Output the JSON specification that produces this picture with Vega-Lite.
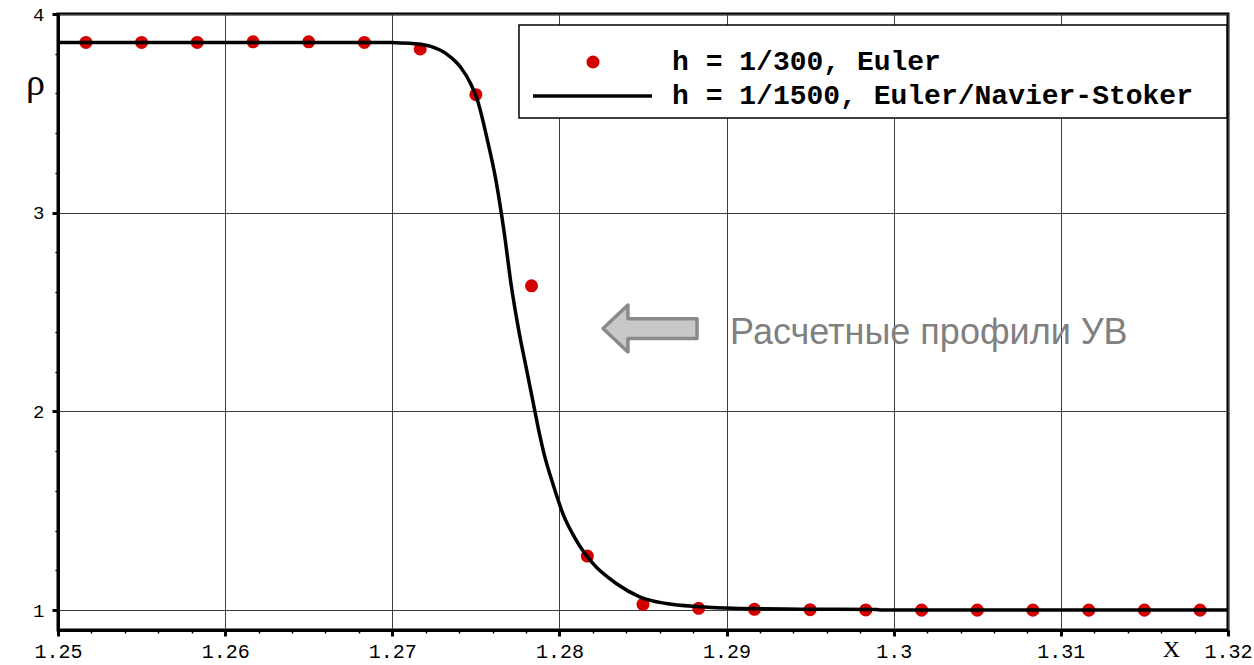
{
  "$schema": "https://vega.github.io/schema/vega-lite/v6.json",
  "width": 1170,
  "height": 616,
  "autosize": "none",
  "padding": {"left": 58, "top": 14, "right": 26, "bottom": 35},
  "background": "white",
  "config": {
    "view": {"stroke": "black", "strokeWidth": 3},
    "axis": {"labelColor": "black", "tickColor": "black", "domainColor": "black"}
  },
  "datasets": {
    "euler300": [
      {"x": 1.25167, "rho": 3.857},
      {"x": 1.255, "rho": 3.857},
      {"x": 1.25833, "rho": 3.857},
      {"x": 1.26167, "rho": 3.86},
      {"x": 1.265, "rho": 3.86},
      {"x": 1.26833, "rho": 3.857},
      {"x": 1.27167, "rho": 3.824},
      {"x": 1.275, "rho": 3.594},
      {"x": 1.27833, "rho": 2.632},
      {"x": 1.28167, "rho": 1.272},
      {"x": 1.285, "rho": 1.029},
      {"x": 1.28833, "rho": 1.009},
      {"x": 1.29167, "rho": 1.004},
      {"x": 1.295, "rho": 1.002},
      {"x": 1.29833, "rho": 1.001},
      {"x": 1.30167, "rho": 1.0},
      {"x": 1.305, "rho": 1.0},
      {"x": 1.30833, "rho": 1.0},
      {"x": 1.31167, "rho": 1.0},
      {"x": 1.315, "rho": 1.0},
      {"x": 1.31833, "rho": 1.0}
    ],
    "ns1500": [
      {"x": 1.25, "rho": 3.857},
      {"x": 1.2693, "rho": 3.857},
      {"x": 1.27, "rho": 3.856},
      {"x": 1.2712, "rho": 3.852},
      {"x": 1.2723, "rho": 3.837},
      {"x": 1.2733, "rho": 3.796},
      {"x": 1.2741, "rho": 3.731},
      {"x": 1.2747, "rho": 3.648},
      {"x": 1.2751, "rho": 3.565},
      {"x": 1.2757, "rho": 3.362},
      {"x": 1.2762, "rho": 3.164},
      {"x": 1.2764, "rho": 3.064},
      {"x": 1.2767, "rho": 2.898},
      {"x": 1.2771, "rho": 2.644},
      {"x": 1.2776, "rho": 2.393},
      {"x": 1.278, "rho": 2.225},
      {"x": 1.2784, "rho": 2.057},
      {"x": 1.2788, "rho": 1.89},
      {"x": 1.2791, "rho": 1.78},
      {"x": 1.2796, "rho": 1.638},
      {"x": 1.2802, "rho": 1.487},
      {"x": 1.281, "rho": 1.352},
      {"x": 1.282, "rho": 1.235},
      {"x": 1.2834, "rho": 1.134},
      {"x": 1.2848, "rho": 1.067},
      {"x": 1.2864, "rho": 1.033},
      {"x": 1.2884, "rho": 1.017},
      {"x": 1.2904, "rho": 1.009},
      {"x": 1.2944, "rho": 1.005},
      {"x": 1.299, "rho": 1.003},
      {"x": 1.2992, "rho": 1.001},
      {"x": 1.32, "rho": 1.001}
    ],
    "one": [{}]
  },
  "layer": [
    {
      "data": {"name": "euler300"},
      "mark": {"type": "point", "filled": true, "size": 170, "color": "#d40000", "opacity": 1},
      "encoding": {
        "x": {
          "field": "x", "type": "quantitative",
          "scale": {"domain": [1.25, 1.32], "nice": false, "zero": false},
          "axis": {
            "orient": "bottom", "title": null, "labels": false, "grid": false, "domain": false,
            "tickSize": 3, "tickWidth": 1.5,
            "values": [1.252, 1.254, 1.256, 1.258, 1.262, 1.264, 1.266, 1.268, 1.272, 1.274, 1.276, 1.278, 1.282, 1.284, 1.286, 1.288, 1.292, 1.294, 1.296, 1.298, 1.302, 1.304, 1.306, 1.308, 1.312, 1.314, 1.316, 1.318]
          }
        },
        "y": {
          "field": "rho", "type": "quantitative",
          "scale": {"domain": [0.9, 4], "nice": false, "zero": false},
          "axis": {
            "orient": "left", "title": null, "labels": false, "grid": false, "domain": false,
            "tickSize": 3, "tickWidth": 1.5,
            "values": [1.2, 1.4, 1.6, 1.8, 2.2, 2.4, 2.6, 2.8, 3.2, 3.4, 3.6, 3.8]
          }
        }
      }
    },
    {
      "data": {"name": "ns1500"},
      "mark": {"type": "line", "color": "black", "strokeWidth": 3.5, "strokeJoin": "round", "interpolate": "monotone"},
      "encoding": {
        "x": {
          "field": "x", "type": "quantitative",
          "scale": {"domain": [1.25, 1.32], "nice": false, "zero": false},
          "axis": {
            "orient": "bottom",
            "values": [1.25, 1.26, 1.27, 1.28, 1.29, 1.3, 1.31, 1.32],
            "format": "~g",
            "grid": true, "gridColor": "#3c3c3c", "gridWidth": 1, "gridOpacity": 1,
            "domainWidth": 3, "tickSize": 6, "tickWidth": 3,
            "labelFont": "Liberation Mono", "labelFontSize": 20, "labelPadding": 5,
            "labelFlush": false,
            "title": "X", "titleFont": "Liberation Serif", "titleFontSize": 24, "titleFontWeight": "normal",
            "titleColor": "black", "titleX": 1113, "titleY": 26, "titleAlign": "center", "titleBaseline": "alphabetic", "titleAngle": 0
          }
        },
        "y": {
          "field": "rho", "type": "quantitative",
          "scale": {"domain": [0.9, 4], "nice": false, "zero": false},
          "axis": {
            "orient": "left",
            "values": [1, 2, 3, 4],
            "grid": true, "gridColor": "#3c3c3c", "gridWidth": 1, "gridOpacity": 1,
            "domainWidth": 3, "tickSize": 6, "tickWidth": 3,
            "labelFont": "Liberation Mono", "labelFontSize": 19, "labelPadding": 8,
            "labelFlush": false,
            "title": "ρ", "titleFont": "Liberation Serif", "titleFontSize": 38, "titleFontWeight": "normal",
            "titleColor": "black", "titleX": -23, "titleY": 80, "titleAlign": "center", "titleBaseline": "alphabetic", "titleAngle": 0
          }
        }
      }
    },
    {
      "data": {"name": "one"},
      "mark": {"type": "rect", "fill": "white", "stroke": "black", "strokeWidth": 1.5},
      "encoding": {
        "x": {"datum": 1.27758, "type": "quantitative", "axis": null},
        "x2": {"datum": 1.31994},
        "y": {"datum": 3.9446, "type": "quantitative", "axis": null},
        "y2": {"datum": 3.4765}
      }
    },
    {
      "data": {"name": "one"},
      "mark": {"type": "point", "filled": true, "size": 170, "color": "#d40000", "opacity": 1},
      "encoding": {
        "x": {"datum": 1.28201, "type": "quantitative", "axis": null},
        "y": {"datum": 3.7584, "type": "quantitative", "axis": null}
      }
    },
    {
      "data": {"name": "one"},
      "mark": {"type": "rule", "color": "black", "strokeWidth": 3.5},
      "encoding": {
        "x": {"datum": 1.27842, "type": "quantitative", "axis": null},
        "x2": {"datum": 1.28554},
        "y": {"datum": 3.5873, "type": "quantitative", "axis": null}
      }
    },
    {
      "data": {"name": "one"},
      "mark": {"type": "text", "text": "h = 1/300, Euler", "align": "left", "baseline": "middle", "font": "Liberation Mono", "fontSize": 28, "fontWeight": "bold", "color": "black"},
      "encoding": {
        "x": {"datum": 1.28674, "type": "quantitative", "axis": null},
        "y": {"datum": 3.7584, "type": "quantitative", "axis": null}
      }
    },
    {
      "data": {"name": "one"},
      "mark": {"type": "text", "text": "h = 1/1500, Euler/Navier-Stoker", "align": "left", "baseline": "middle", "font": "Liberation Mono", "fontSize": 28, "fontWeight": "bold", "color": "black"},
      "encoding": {
        "x": {"datum": 1.28674, "type": "quantitative", "axis": null},
        "y": {"datum": 3.5873, "type": "quantitative", "axis": null}
      }
    },
    {
      "data": {"name": "one"},
      "mark": {
        "type": "point", "filled": true, "size": 8836,
        "shape": "M-1,0L-0.47,-0.5L-0.47,-0.21L1,-0.21L1,0.21L-0.47,0.21L-0.47,0.5Z",
        "fill": "#c8c8c8", "stroke": "#8a8a8a", "strokeWidth": 3.5, "strokeJoin": "round", "opacity": 1
      },
      "encoding": {
        "x": {"datum": 1.28542, "type": "quantitative", "axis": null},
        "y": {"datum": 2.417, "type": "quantitative", "axis": null}
      }
    },
    {
      "data": {"name": "one"},
      "mark": {"type": "text", "text": "Расчетные профили УВ", "align": "left", "baseline": "alphabetic", "font": "Liberation Sans Narrow, Liberation Sans, Arial", "fontSize": 36, "color": "#808080"},
      "encoding": {
        "x": {"datum": 1.29021, "type": "quantitative", "axis": null},
        "y": {"datum": 2.3415, "type": "quantitative", "axis": null}
      }
    }
  ],
  "resolve": {"axis": {"x": "independent", "y": "independent"}}
}
